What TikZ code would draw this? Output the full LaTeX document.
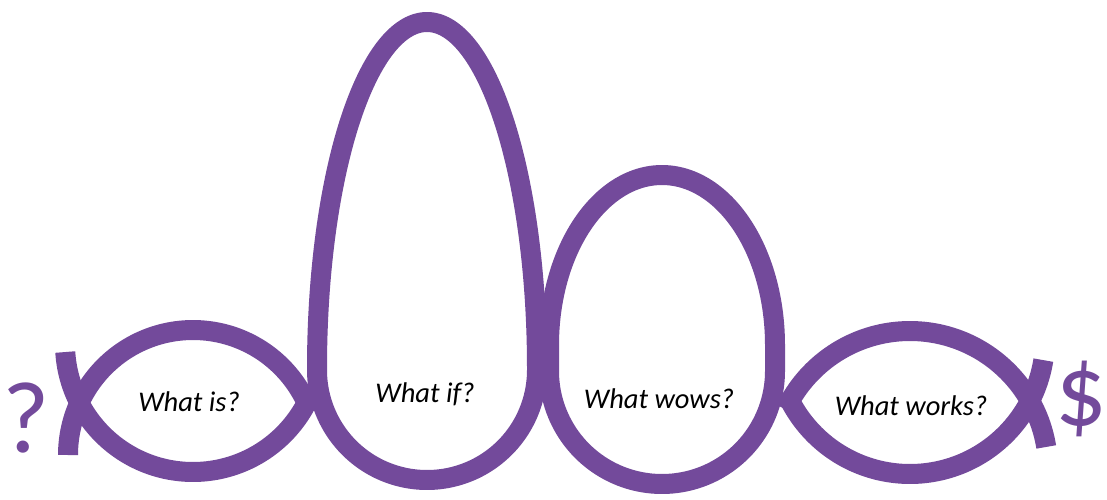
\documentclass[tikz,border=0pt]{standalone}
\usepackage{fontspec}
\setmainfont{Carlito}
\definecolor{pur}{RGB}{115,74,155}
\begin{document}
\begin{tikzpicture}[x=1pt,y=-1pt,
  loopline/.style={draw=pur, line width=20pt, line join=round},
  lbl/.style={font=\fontsize{28.5}{28.5}\selectfont\itshape, anchor=base, inner sep=0pt},
  sym/.style={text=pur, font=\fontsize{102}{102}\selectfont, anchor=base, inner sep=0pt}]
\useasboundingbox (0,0) rectangle (1107,500);
% lens 1 (What is?)
\draw[loopline] plot[domain=180:339, samples=90, variable=\t] ({193+125*cos(\t)},{455+125*sin(\t)});
\draw[loopline] plot[domain=23.5:176.4, samples=90, variable=\t] ({193+128*cos(\t)},{344+128*sin(\t)});
% What if? loop
\draw[loopline] plot[domain=180:360, samples=150, variable=\t] ({427+110*cos(\t)},{368+346*sin(\t)})
  -- plot[domain=0:180, samples=90, variable=\t] ({427+110*cos(\t)},{370+110*sin(\t)}) -- cycle;
% What wows? loop
\draw[loopline] plot[domain=180:360, samples=120, variable=\t] ({662+113*cos(\t)},{345+170*sin(\t)})
  -- plot[domain=0:180, samples=90, variable=\t] ({662+113*cos(\t)},{371+113*sin(\t)}) -- cycle;
% lens 4 (What works?)
\draw[loopline] plot[domain=205.6:350.8, samples=90, variable=\t] ({910+138*cos(\t)},{469+138*sin(\t)});
\draw[loopline] plot[domain=9:156.5, samples=90, variable=\t] ({910+135*cos(\t)},{339+135*sin(\t)});
% labels
\node[lbl] (is) at (189,411) {What is?};
\node[lbl] (if) at (425,402) {What if?};
\node[lbl] (wows) at (659,408) {What wows?};
\node[lbl] (works) at (911,415) {What works?};
\node[sym] (q) at (26,452) {?};
\node[sym] (d) at (1081,425) {\$};
\end{tikzpicture}
\end{document}
